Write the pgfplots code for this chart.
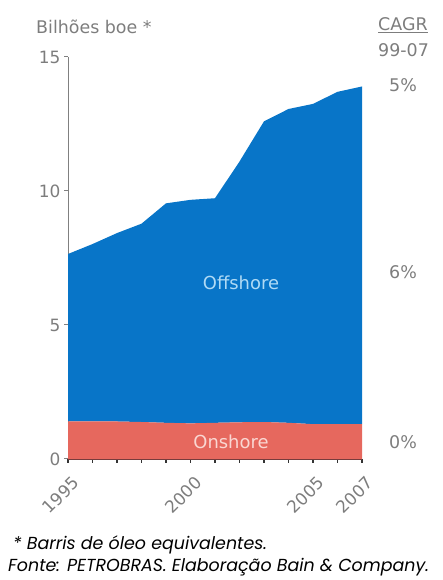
\documentclass[border=0pt]{standalone}
\usepackage{pgfplots}
\pgfplotsset{compat=1.18}
\usepackage{fontspec}
\setmainfont{DejaVu Sans}
\newfontfamily\footfont{Poppins}
\definecolor{offblue}{RGB}{8,117,200}
\definecolor{onred}{RGB}{230,104,94}
\definecolor{txtgray}{RGB}{125,125,125}
\definecolor{xaxcol}{RGB}{120,60,60}
\definecolor{offtxt}{RGB}{175,218,245}
\definecolor{ontxt}{RGB}{250,215,210}
\begin{document}
\begin{tikzpicture}
\path (0bp,0bp) rectangle (443bp,580bp);
\begin{axis}[
  at={(68bp,121bp)}, anchor=south west,
  scale only axis, width=294bp, height=402bp,
  xmin=1995, xmax=2007, ymin=0, ymax=15,
  axis lines*=left,
  x axis line style={draw=xaxcol, line width=1.2bp},
  y axis line style={draw=gray, line width=1bp},
  stack plots=y,
  ytick={0,5,10,15},
  xtick={1995,2000,2005,2007},
  xticklabels={1995,2000,2005,2007},
  minor xtick={1996,1997,1998,1999,2001,2002,2003,2004,2006},
  tick align=outside,
  major tick length=4bp,
  minor tick length=4bp,
  x tick style={draw=black!80, line width=1.2bp},
  minor x tick style={draw=black!80, line width=1.2bp},
  y tick style={draw=gray, line width=1bp},
  tick label style={font=\fontsize{17}{17}\selectfont, text=txtgray},
  xticklabel style={rotate=45, anchor=north east, inner sep=1bp, xshift=-5bp, yshift=-10bp},
  /pgf/number format/assume math mode=true,
  clip=false,
]
\addplot[fill=onred, draw=none] coordinates {
(1995,1.40) (1996,1.40) (1997,1.40) (1998,1.38) (1999,1.35) (2000,1.33) (2001,1.35)
(2002,1.37) (2003,1.38) (2004,1.35) (2005,1.30) (2006,1.30) (2007,1.30)} \closedcycle;
\addplot[fill=offblue, draw=none] coordinates {
(1995,6.25) (1996,6.62) (1997,7.03) (1998,7.40) (1999,8.19) (2000,8.34) (2001,8.38)
(2002,9.73) (2003,11.22) (2004,11.71) (2005,11.95) (2006,12.40) (2007,12.60)} \closedcycle;
\end{axis}
\begin{scope}[every node/.style={font=\fontsize{17.5}{17.5}\selectfont, inner sep=0pt}]
\node[text=txtgray, anchor=west] at (36bp,553bp) {Bilhões boe *};
\node[text=txtgray, anchor=west] at (378bp,555bp) {\underline{CAGR}};
\node[text=txtgray, anchor=west] at (378bp,530bp) {99-07};
\node[text=txtgray] at (403bp,495bp) {5\%};
\node[text=txtgray] at (403bp,308bp) {6\%};
\node[text=txtgray] at (403bp,138bp) {0\%};
\node[text=offtxt, font=\fontsize{18}{18}\selectfont] at (241bp,297bp) {Offshore};
\node[text=ontxt, font=\fontsize{18}{18}\selectfont] at (231bp,138bp) {Onshore};
\end{scope}
\node[anchor=west, inner sep=0pt, font=\footfont\itshape\fontsize{17.5}{17.5}\selectfont] at (13bp,35bp) {* Barris de óleo equivalentes.};
\node[anchor=west, inner sep=0pt, font=\footfont\itshape\fontsize{17.5}{17.5}\selectfont] at (8bp,13bp) {Fonte: PETROBRAS. Elaboração Bain \& Company.};
\end{tikzpicture}
\end{document}
